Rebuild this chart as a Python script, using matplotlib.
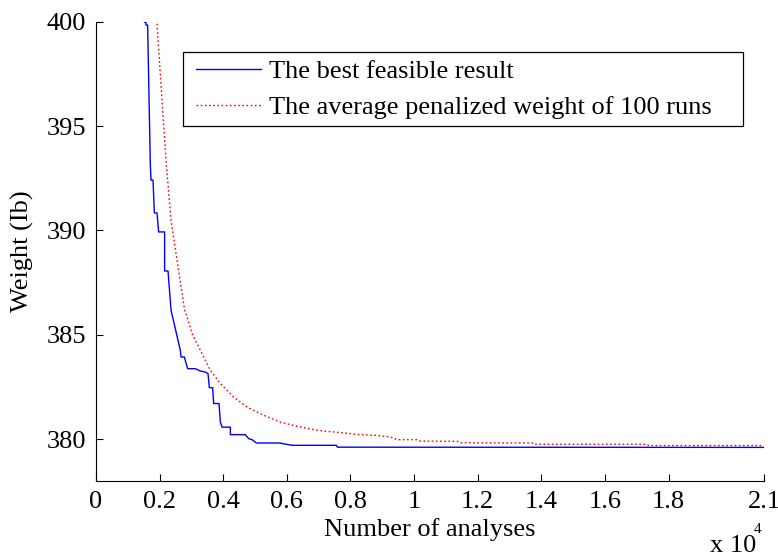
import matplotlib
matplotlib.use("Agg")
import matplotlib.pyplot as plt
from matplotlib.patches import Rectangle

# ---- data ----
best_x = [1528, 1572, 1572, 1623, 1708, 1730, 1793, 1834, 1918, 1969, 2157, 2157,
          2264, 2359, 2651, 2673, 2777, 2881, 3123, 3280, 3437, 3522, 3563, 3667,
          3699, 3868, 3909, 3963, 4224, 4224, 4695, 4799, 4906, 5041, 5765, 6164,
          7557, 7589, 21000]
best_y = [399.97, 399.97, 399.84, 399.84, 393.13, 392.41, 392.41, 390.84, 390.84,
          389.93, 389.93, 388.06, 388.06, 386.18, 384.26, 383.94, 383.94, 383.38,
          383.38, 383.27, 383.22, 383.14, 382.47, 382.47, 381.71, 381.71, 380.82,
          380.58, 380.58, 380.22, 380.22, 380.03, 379.98, 379.82, 379.82, 379.71,
          379.71, 379.62, 379.61]

avg_x = [1900, 2211, 2359, 2547, 2786, 2862, 3019, 3280, 3595, 3909, 4328, 4749,
         5271, 5796, 6321, 6843, 7158, 7473, 7787, 8259, 8784, 9256, 9466, 10095,
         10199, 11353, 11457, 13712, 13763, 17329, 17370, 21000]
avg_y = [400.3, 393.13, 390.49, 388.58, 386.18, 385.86, 385.06, 384.26, 383.30,
         382.67, 382.02, 381.54, 381.15, 380.82, 380.62, 380.46, 380.39, 380.35,
         380.30, 380.23, 380.19, 380.11, 379.98, 379.98, 379.91, 379.90, 379.83,
         379.82, 379.76, 379.76, 379.70, 379.70]

x_ticks = [0, 2000, 4000, 6000, 8000, 10000, 12000, 14000, 16000, 18000, 21000]
x_tick_labels = ["0", "0.2", "0.4", "0.6", "0.8", "1", "1.2", "1.4", "1.6", "1.8", "2.1"]
y_ticks = [380, 385, 390, 395, 400]
y_tick_labels = ["380", "385", "390", "395", "400"]

labels = ["The best feasible result", "The average penalized weight of 100 runs"]

# ---- figure ----
W, H = 778, 556
plt.rcParams['font.family'] = ['Liberation Serif', 'DejaVu Serif']
fig = plt.figure(figsize=(W / 100, H / 100), dpi=100)

left, right, top, bottom = 96, 764, 21.7, 481
ax = fig.add_axes([left / W, 1 - bottom / H, (right - left) / W, (bottom - top) / H])

ax.plot(best_x, best_y, color='#0000ff', lw=1.0, label=labels[0])
ax.plot(avg_x, avg_y, color='#ff0000', lw=1.0, linestyle=(0, (1.2, 1.8)), label=labels[1])

ax.set_xlim(0, 21000)
ax.set_ylim(378, 400)
ax.set_xticks(x_ticks)
ax.set_xticklabels(x_tick_labels)
ax.set_yticks(y_ticks)
ax.set_yticklabels(y_tick_labels)

for s in ['top', 'right']:
    ax.spines[s].set_visible(False)
for s in ['left', 'bottom']:
    ax.spines[s].set_linewidth(0.8)
    ax.spines[s].set_color('black')

FS = 19
ax.tick_params(direction='in', length=5, width=0.8, labelsize=FS, pad=7)

ax.set_xlabel("Number of analyses", fontsize=FS, labelpad=4)
ax.set_ylabel("Weight (Ib)", fontsize=FS, labelpad=9)

# legend frame drawn as a rectangle (MATLAB-style padding)
x0, x1, y0, y1 = 183.3, 742.7, 51.7, 125.7
frame = Rectangle((x0 / W, 1 - y1 / H), (x1 - x0) / W, (y1 - y0) / H,
                  transform=fig.transFigure, facecolor='white', edgecolor='black',
                  linewidth=0.9, zorder=4, clip_on=False)
ax.add_patch(frame)

leg = ax.legend(loc='upper left', bbox_to_anchor=(196 / W, 1 - 60 / H),
                bbox_transform=fig.transFigure, borderaxespad=0, frameon=False,
                fontsize=FS, handlelength=2.45, handletextpad=0.33,
                borderpad=0, labelspacing=0.45)
leg.set_zorder(5)

fig.text(710 / W, 1 - 552 / H, "x 10", fontsize=FS, ha='left', va='baseline')
fig.text(754 / W, 1 - 533 / H, "4", fontsize=11, ha='left', va='baseline')

fig.savefig("out.png", dpi=100)
